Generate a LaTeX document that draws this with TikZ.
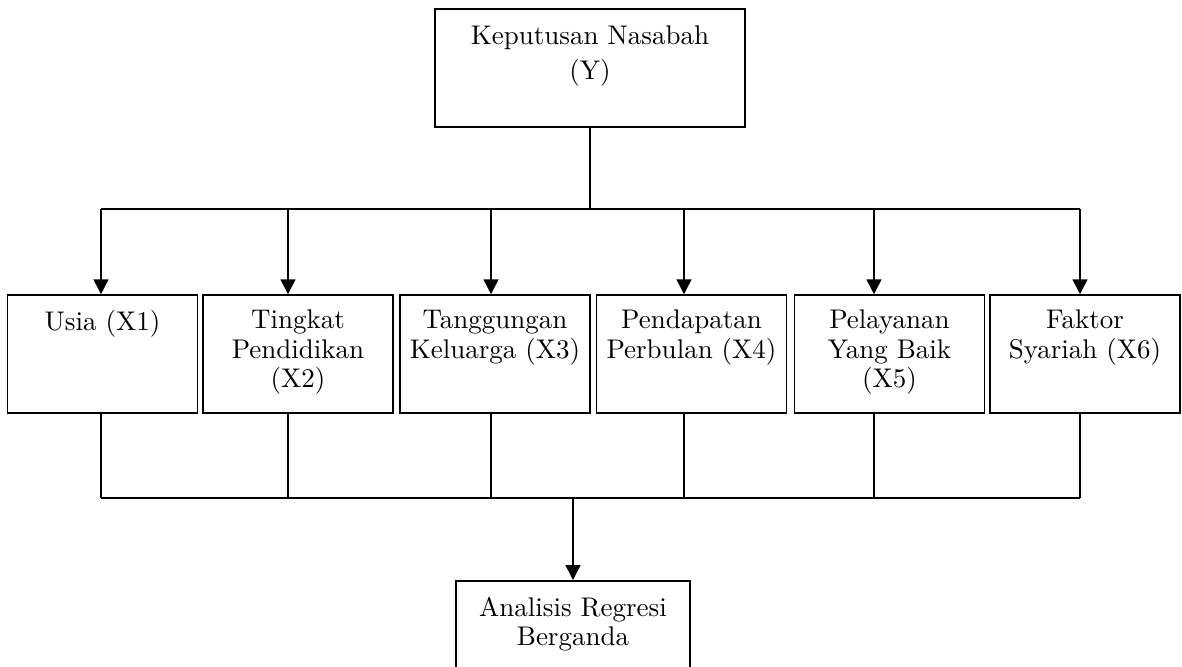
\documentclass[tikz,border=0pt]{standalone}
\usetikzlibrary{arrows.meta}

\tikzset{
    box/.style={draw, line width=0.6pt, inner sep=0pt, minimum width=76pt, minimum height=47.2pt},
    lbl/.style={anchor=north, align=center, inner sep=0pt, font=\fontsize{10.8}{11.8}\selectfont},
    arr/.style={line width=0.6pt, -{Triangle[width=6pt,length=6pt]}}
}

\begin{document}
\begin{tikzpicture}[x=0.4pt,y=-0.4pt]
    \useasboundingbox (0,0) rectangle (1182,667);
    % dependent variable
    \node[box, minimum width=124pt] (kep) at (590,68) {};
    \node[lbl, font=\fontsize{10.8}{14}\selectfont] (kep-t) at ([yshift=-7pt]kep.north) {Keputusan Nasabah\\(Y)};

    % independent variables
    \node[box] (usia) at (102.5,354) {};
    \node[box] (tingkat) at (298,354) {};
    \node[box] (tanggungan) at (495,354) {};
    \node[box] (pendapatan) at (691.5,354) {};
    \node[box] (pelayanan) at (889.5,354) {};
    \node[box] (faktor) at (1085,354) {};
    \node[lbl] (usia-t) at ([yshift=-6.2pt]usia.north) {Usia (X1)};
    \node[lbl] (tingkat-t) at ([yshift=-6.2pt]tingkat.north) {Tingkat\\Pendidikan\\(X2)};
    \node[lbl] (tanggungan-t) at ([yshift=-6.2pt]tanggungan.north) {Tanggungan\\Keluarga (X3)};
    \node[lbl] (pendapatan-t) at ([yshift=-6.2pt]pendapatan.north) {Pendapatan\\Perbulan (X4)};
    \node[lbl] (pelayanan-t) at ([yshift=-6.2pt]pelayanan.north) {Pelayanan\\Yang Baik\\(X5)};
    \node[lbl] (faktor-t) at ([yshift=-6.2pt]faktor.north) {Faktor\\Syariah (X6)};

    % analysis
    \node[box, minimum width=93.6pt, anchor=north] (reg) at (573,580) {};
    \node[lbl] (reg-t) at ([yshift=-6.6pt]reg.north) {Analisis Regresi\\Berganda};

    % lines
    \coordinate (top) at (590,209);
    \coordinate (bot) at (573,498);
    \draw[line width=0.6pt] (kep.south) -- (top);
    \draw[line width=0.6pt] (101,209) -- (1080,209);
    \draw[line width=0.6pt] (101,498) -- (1080,498);
    \foreach \n/\x in {usia/101,tingkat/288,tanggungan/491,pendapatan/684,pelayanan/874,faktor/1080}{
        \draw[arr] (\x,209) -- (\n.north -| \x,0);
        \draw[line width=0.6pt] (\n.south -| \x,0) -- (\x,498);
    }
    \draw[arr] (bot) -- (reg.north);
\end{tikzpicture}
\end{document}
